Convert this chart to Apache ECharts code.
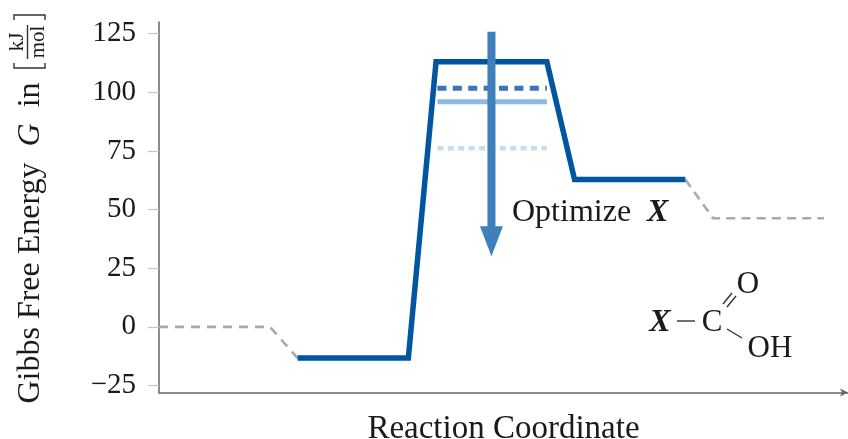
<!DOCTYPE html>
<html><head><meta charset="utf-8">
<style>html,body{margin:0;padding:0;background:#fff}#c{width:848px;height:439px}</style>
<script src="https://cdn.jsdelivr.net/npm/echarts@6/dist/echarts.min.js"></script>
</head><body><div id="c"></div>
<script>
const yTicks = [-25, 0, 25, 50, 75, 100, 125];
const startX = [0, 4, 5];
const startG = [0, 0, -13.3];
const mainX = [5, 9, 10, 14, 15, 19];
const mainG = [-13.3, -13.3, 113, 113, 62.8, 62.8];
const endX = [19, 20, 24];
const endG = [62.8, 46.3, 46.3];
const levelX = [10.05, 14];
const level1 = [101.8, 101.8];
const level2 = [96, 96];
const level3 = [76.2, 76.2];
const arrowX = [12, 12];
const arrowG = [125.8, 36.5];
const pairs = (a, b) => a.map((v, i) => [v, b[i]]);
const FONT = '"Liberation Serif", serif';
const INK = '#1a1a1a';
const chart = echarts.init(document.getElementById('c'), null, {renderer: 'canvas'});
const lineS = (data, color, width, type, extra) => Object.assign({
  type: 'line', data: pairs(...data), showSymbol: false, symbol: 'none', clip: false, silent: true,
  lineStyle: {color, width, type, cap: 'butt', join: 'miter', miterLimit: 10}
}, extra || {});
const txt = (x, y, text, extra, el) => Object.assign({type: 'text', x, y, silent: true, style: Object.assign({
  text, fill: INK, font: '31px ' + FONT, textAlign: 'center', textVerticalAlign: 'middle'}, extra || {})}, el || {});
const seg = (x1, y1, x2, y2, w, c) => ({type: 'line', silent: true,
  shape: {x1, y1, x2, y2}, style: {stroke: c || '#333', lineWidth: w || 1.4}});
const poly = (points) => ({type: 'polyline', silent: true, shape: {points}, style: {stroke: '#333', fill: null, lineWidth: 1.4}});
chart.setOption({
  animation: false,
  backgroundColor: '#fff',
  grid: {left: 159, top: 22, width: 689, height: 370.5, containLabel: false, outerBoundsMode: 'none'},
  xAxis: {
    type: 'value', min: 0, max: 24.87,
    axisLine: {show: true, onZero: false, lineStyle: {color: '#666', width: 1.5}, symbol: ['none', 'arrow'], symbolSize: [6, 8]},
    axisTick: {show: false}, axisLabel: {show: false}, splitLine: {show: false},
    name: 'Reaction Coordinate', nameLocation: 'middle', nameGap: 20,
    nameTextStyle: {fontFamily: FONT, fontSize: 33, color: INK}
  },
  yAxis: {
    type: 'value', min: -28, max: 130,
    axisLine: {show: true, onZero: false, lineStyle: {color: '#666', width: 1.5}},
    axisTick: {show: true, length: 11, customValues: yTicks, lineStyle: {color: '#c4c4c4', width: 1.2}},
    axisLabel: {margin: 23, fontFamily: FONT, fontSize: 29, color: INK, customValues: yTicks, lineHeight: 36, padding: [5, 0, 0, 0],
      formatter: v => String(v).replace('-', '\u2212')},
    splitLine: {show: false}
  },
  series: [
    lineS([startX, startG], '#a9a9a9', 2.6, [9, 7]),
    lineS([endX, endG], '#a9a9a9', 2.6, [9, 6.2]),
    lineS([levelX, level3], '#c6ddf0', 4.5, [6, 4.4]),
    lineS([levelX, level2], '#8fb8e2', 5, 'solid'),
    lineS([levelX, level1], '#3a76b4', 5, [9, 6.4]),
    lineS([mainX, mainG], '#02559f', 5.5, 'solid'),
    lineS([arrowX, arrowG], '#3f7fbb', 8, 'solid', {
      showSymbol: true,
      symbol: (v, p) => p.dataIndex === 1 ? 'triangle' : 'none',
      symbolSize: [23, 30], symbolRotate: 180, showAllSymbol: true,
      itemStyle: {color: '#3f7fbb'}
    })
  ],
  graphic: {elements: [
    txt(31, 243, 'Gibbs Free Energy  {g|G}  in', {
      rich: {g: {font: 'italic 32px ' + FONT, fill: INK}},
      font: '32px ' + FONT
    }, {rotation: Math.PI / 2}),
    txt(17, 42, 'kJ', {font: '21px ' + FONT}, {rotation: Math.PI / 2}),
    txt(38, 42, 'mol', {font: '21px ' + FONT}, {rotation: Math.PI / 2}),
    seg(27.5, 25, 27.5, 59),
    poly([[14, 63], [14, 68], [45, 68], [45, 63]]),
    poly([[14, 20], [14, 15], [45, 15], [45, 20]]),
    txt(512, 213, 'Optimize  {x|X}', {textAlign: 'left', font: '32px ' + FONT, rich: {x: {font: 'italic bold 32px ' + FONT, fill: INK}}}),
    txt(660, 323, 'X', {font: 'italic bold 32px ' + FONT}),
    seg(677, 321, 695, 321),
    txt(712, 323, 'C'),
    txt(748, 285, 'O'),
    txt(770, 349, 'OH'),
    seg(723, 304, 732, 293), seg(727, 307, 736, 296),
    seg(727, 329, 742, 338)
  ]}
});
</script></body></html>
